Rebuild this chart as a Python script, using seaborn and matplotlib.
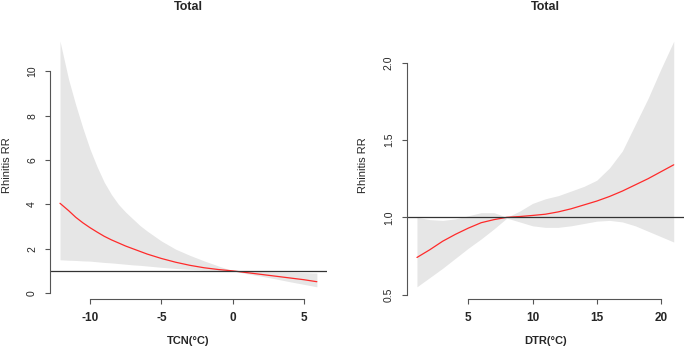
import numpy as np
import pandas as pd
import matplotlib
matplotlib.use("Agg")
import matplotlib.pyplot as plt
import seaborn as sns

# TCN panel (RR and 95% band)
tcn_x = [-12.1, -11.5, -11, -10.5, -10, -9.5, -9, -8.5, -8, -7.5, -7, -6.5, -6, -5, -4,
         -3, -2, -1, 0, 1, 2, 3, 4, 5, 5.9]
tcn_rr = [4.05, 3.72, 3.42, 3.17, 2.95, 2.75, 2.56, 2.4, 2.26, 2.12, 2.0, 1.88, 1.76,
          1.56, 1.39, 1.25, 1.14, 1.06, 1.0, 0.92, 0.84, 0.76, 0.68, 0.6, 0.51]
tcn_hi = [11.37, 9.65, 8.5, 7.45, 6.5, 5.7, 5.0, 4.45, 4.0, 3.65, 3.35, 3.05, 2.8, 2.35,
          1.98, 1.7, 1.45, 1.22, 1.0, 0.98, 0.97, 0.95, 0.94, 0.92, 0.9]
tcn_lo = [1.5, 1.48, 1.47, 1.45, 1.44, 1.41, 1.38, 1.36, 1.33, 1.3, 1.27, 1.25, 1.22,
          1.16, 1.11, 1.07, 1.04, 1.02, 1.0, 0.87, 0.76, 0.64, 0.51, 0.39, 0.28]

# DTR panel
dtr_x = list(range(1, 22))
dtr_rr = [0.74, 0.79, 0.845, 0.89, 0.93, 0.965, 0.985, 1.0, 1.005, 1.012, 1.02, 1.035,
          1.055, 1.08, 1.105, 1.135, 1.17, 1.21, 1.25, 1.295, 1.34]
dtr_hi = [1.0, 0.985, 0.98, 0.99, 1.01, 1.03, 1.03, 1.0, 1.04, 1.09, 1.12, 1.14, 1.17,
          1.2, 1.24, 1.32, 1.43, 1.6, 1.77, 1.96, 2.14]
dtr_lo = [0.55, 0.61, 0.67, 0.735, 0.8, 0.86, 0.925, 0.995, 0.97, 0.945, 0.935, 0.935,
          0.945, 0.96, 0.975, 0.98, 0.97, 0.945, 0.91, 0.875, 0.84]

sns.set_style("white")
plt.rcParams['font.family'] = ['Liberation Sans', 'DejaVu Sans']

fig = plt.figure(figsize=(6.85, 3.5), dpi=100)

panels = [
    dict(x=tcn_x, rr=tcn_rr, hi=tcn_hi, lo=tcn_lo, xlabel='TCN(°C)',
         rect=[50 / 685, 51 / 350, 277 / 685, 267 / 350],
         xlim=(-12.8, 6.61), ylim=(-0.27, 11.78),
         xticks=[-10, -5, 0, 5], yticks=[0, 2, 4, 6, 8, 10], yfmt='{:g}'),
    dict(x=dtr_x, rr=dtr_rr, hi=dtr_hi, lo=dtr_lo, xlabel='DTR(°C)',
         rect=[406.7 / 685, 51 / 350, 277.3 / 685, 267 / 350],
         xlim=(0.2, 21.8), ylim=(0.471, 2.2),
         xticks=[5, 10, 15, 20], yticks=[0.5, 1.0, 1.5, 2.0], yfmt='{:.1f}'),
]

for p in panels:
    ax = fig.add_axes(p['rect'])
    df = pd.DataFrame({'x': p['x'], 'rr': p['rr'], 'hi': p['hi'], 'lo': p['lo']})
    ax.fill_between(df['x'], df['lo'], df['hi'], color='#e6e6e6', lw=0)
    sns.lineplot(data=df, x='x', y='rr', ax=ax, color='#ff2a2a', lw=0.9)
    ax.axhline(1, color='#333333', lw=0.9)
    ax.set_xlim(*p['xlim'])
    ax.set_ylim(*p['ylim'])

    for s in ['top', 'right']:
        ax.spines[s].set_visible(False)
    for s in ['left', 'bottom']:
        ax.spines[s].set_color('#555555')
        ax.spines[s].set_linewidth(0.8)
    ax.spines['bottom'].set_bounds(p['xticks'][0], p['xticks'][-1])
    ax.spines['left'].set_bounds(p['yticks'][0], p['yticks'][-1])

    ax.set_xticks(p['xticks'])
    ax.set_xticklabels([f'{t:g}' for t in p['xticks']], fontsize=8.5, fontweight='bold')
    ax.set_yticks(p['yticks'])
    ax.set_yticklabels([p['yfmt'].format(t) for t in p['yticks']], fontsize=7.5,
                       rotation=90, va='center')
    ax.tick_params(axis='both', direction='out', length=3.3, width=0.8,
                   color='#555555', left=True, bottom=True)
    ax.tick_params(axis='x', pad=6)
    ax.tick_params(axis='y', pad=6)

    ax.set_xlabel(p['xlabel'], fontsize=8, fontweight='bold')
    ax.xaxis.set_label_coords(0.5, -0.14)
    ax.set_ylabel('Rhinitis RR', fontsize=8)
    ax.yaxis.set_label_coords(-0.138, 0.5)
    ax.text(0.5, 1.095, 'Total', transform=ax.transAxes, ha='center', va='center',
            fontsize=9, fontweight='bold')

fig.savefig('out.png', dpi=100)
